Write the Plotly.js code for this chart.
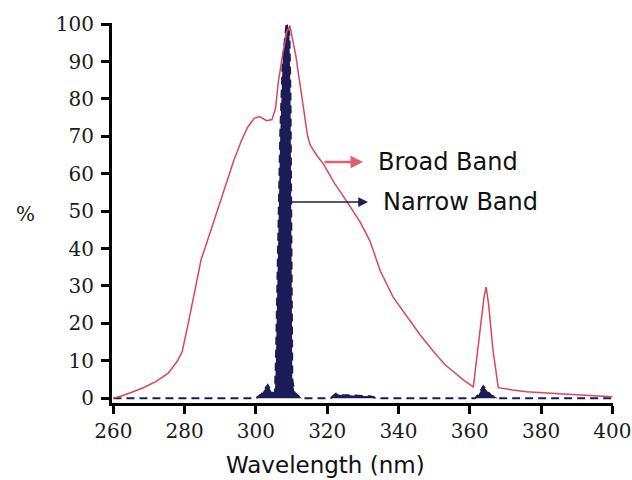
<!DOCTYPE html>
<html>
<head>
<meta charset="utf-8">
<script src="https://cdn.plot.ly/plotly-3.0.1.min.js"></script>
<style>html,body{margin:0;padding:0;background:#fff;}#chart{width:632px;height:480px;}</style>
</head>
<body>
<div id="chart"></div>
<script>
// Broad band spectrum (wavelength nm, relative %)
const broadWavelength = [260, 262, 265, 268.7, 272, 275.4, 278, 279.3, 281, 282.6, 284.6, 287.4, 290.2, 293.8, 296, 297.7, 299.5, 301, 303, 304.5, 305.5, 306.2, 307.5, 308.7, 309.5, 310.3, 311.2, 312.5, 313.5, 314.5, 315.3, 317, 319, 322, 324.5, 327, 329.3, 332, 334.9, 338.5, 343.3, 346, 349.7, 353, 355.3, 358, 361, 362.5, 364, 364.6, 365.3, 366.5, 368, 372, 376, 385, 392, 400];
const broadPercent    = [0, 0.5, 1.5, 2.9, 4.5, 6.7, 10, 12.5, 20, 28, 37, 45, 53, 63.6, 69, 72.5, 74.8, 75.3, 74.2, 74.5, 77.5, 84, 92, 98, 99.6, 96, 91.5, 83, 76, 70, 67.5, 65, 62.5, 57.5, 54, 50.5, 47, 42, 34, 27, 20.6, 17, 12.6, 9, 7.2, 5, 3, 15, 27, 29.7, 25, 13, 2.8, 2.2, 1.7, 1.2, 0.8, 0.4];

// Narrow band spectrum
const narrowWavelength = [260, 300, 301.5, 303.3, 304.5, 305.3, 305.6, 306.2, 306.8, 307.5, 308.5, 308.9, 309.4, 309.7, 309.9, 310.2, 310.8, 312, 313, 321, 322.5, 324, 326, 328, 330, 332, 334, 361.5, 362.5, 363.8, 364.8, 366, 368, 400];
const narrowPercent    = [0, 0, 1, 3.5, 1.5, 1.2, 10, 40, 70, 90, 99.5, 100, 97, 80, 40, 5, 1.5, 0.5, 0, 0, 1.2, 0.8, 0.8, 0.7, 0.8, 0.5, 0, 0, 1, 3.2, 2, 0.7, 0, 0];

// Axis ticks and labels
const xTicks = [260, 280, 300, 320, 340, 360, 380, 400];
const yTicks = [0, 10, 20, 30, 40, 50, 60, 70, 80, 90, 100];
const seriesNames = ["Broad Band", "Narrow Band"];
const xTitle = "Wavelength (nm)";
const yTitle = "%";

const navy = "#1c1c58";
const red = "#d9475c";

const traces = [
  {
    x: narrowWavelength, y: narrowPercent, type: "scatter", mode: "lines",
    name: seriesNames[1], fill: "tozeroy", fillcolor: navy,
    line: {color: navy, width: 2, dash: "8px,5px"}, hoverinfo: "skip"
  },
  {
    x: broadWavelength, y: broadPercent, type: "scatter", mode: "lines",
    name: seriesNames[0],
    line: {color: red, width: 1.5}, hoverinfo: "skip"
  }
];

const tickFont = {family: "DejaVu Serif", size: 20, color: "#1a1a1a"};
const textFont = {family: "DejaVu Sans", size: 24, color: "#111"};

const L = 112, R = 19, T = 23, B = 77;
const PW = 632 - L - R, PH = 480 - T - B;

const layout = {
  width: 632, height: 480,
  margin: {l: L, r: R, t: T, b: B},
  paper_bgcolor: "#fff", plot_bgcolor: "#fff",
  showlegend: false,
  xaxis: {
    range: [259.6, 400.2], tickvals: xTicks, ticktext: xTicks.map(String),
    showgrid: false, zeroline: false, showline: true, linewidth: 3, linecolor: "#000",
    ticks: "outside", ticklen: 8, tickwidth: 3, tickcolor: "#000",
    tickfont: tickFont, ticklabeloverflow: "allow", fixedrange: true
  },
  yaxis: {
    range: [-1.3, 100.3], tickvals: yTicks, ticktext: yTicks.map(String),
    showgrid: false, zeroline: false, showline: true, linewidth: 3, linecolor: "#000",
    ticks: "outside", ticklen: 8, tickwidth: 3, tickcolor: "#000",
    tickfont: tickFont, ticklabelstandoff: 3, fixedrange: true
  },
  annotations: [
    {text: xTitle, xref: "paper", yref: "paper", x: (325 - L) / PW, y: (480 - B - 465) / PH, xanchor: "center", yanchor: "middle", showarrow: false, font: {family: "DejaVu Sans", size: 23, color: "#111"}},
    {text: yTitle, xref: "paper", yref: "paper", x: (25 - L) / PW, y: (480 - B - 214) / PH, xanchor: "center", yanchor: "middle", showarrow: false, font: {family: "DejaVu Serif", size: 20, color: "#1a1a1a"}},
    {text: seriesNames[0], xref: "paper", yref: "paper", x: (448 - L) / PW, y: (480 - B - 162) / PH, xanchor: "center", yanchor: "middle", showarrow: false, font: textFont},
    {text: seriesNames[1], xref: "paper", yref: "paper", x: (460 - L) / PW, y: (480 - B - 202) / PH, xanchor: "center", yanchor: "middle", showarrow: false, font: textFont},
    {text: "", xref: "paper", yref: "paper", x: (363 - L) / PW, y: (480 - B - 162) / PH, ax: -40, ay: 0, showarrow: true, arrowhead: 2, arrowsize: 1, arrowwidth: 2.5, arrowcolor: "#e0606e", standoff: 0},
    {text: "", xref: "paper", yref: "paper", x: (368 - L) / PW, y: (480 - B - 202) / PH, ax: -78, ay: 0, showarrow: true, arrowhead: 2, arrowsize: 1.3, arrowwidth: 1.5, arrowcolor: navy, standoff: 0}
  ]
};

Plotly.newPlot("chart", traces, layout, {staticPlot: true, displayModeBar: false});
</script>
</body>
</html>
